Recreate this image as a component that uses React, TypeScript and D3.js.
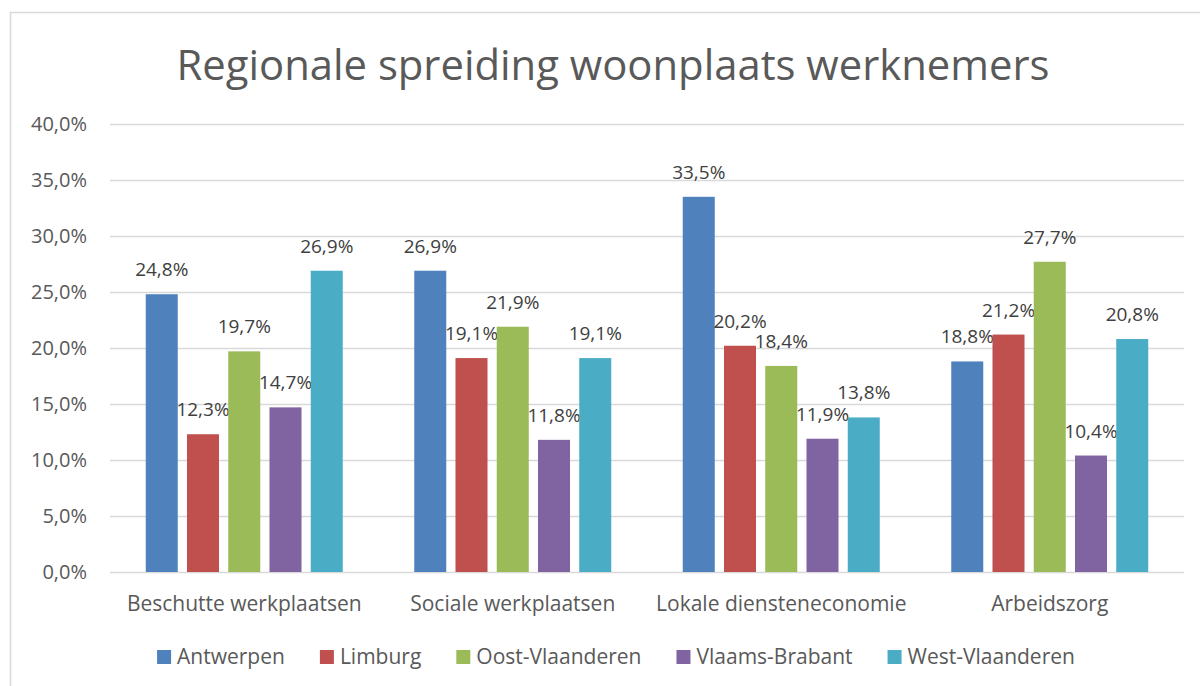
import React, { useEffect, useRef } from "react";
import * as d3 from "d3";

const categories = ["Beschutte werkplaatsen", "Sociale werkplaatsen", "Lokale diensteneconomie", "Arbeidszorg"];
const regions = ["Antwerpen", "Limburg", "Oost-Vlaanderen", "Vlaams-Brabant", "West-Vlaanderen"];
const antwerpen = [24.8, 26.9, 33.5, 18.8];
const limburg = [12.3, 19.1, 20.2, 21.2];
const oostVlaanderen = [19.7, 21.9, 18.4, 27.7];
const vlaamsBrabant = [14.7, 11.8, 11.9, 10.4];
const westVlaanderen = [26.9, 19.1, 13.8, 20.8];
const yTicks = [0, 5, 10, 15, 20, 25, 30, 35, 40];
const colors = ["#4F81BD", "#C0504D", "#9BBB59", "#8064A2", "#4BACC6"];

const seriesValues = [antwerpen, limburg, oostVlaanderen, vlaamsBrabant, westVlaanderen];
const FONT = "'Open Sans', sans-serif";
const fmt = (v: number) => v.toFixed(1).replace(".", ",") + "%";

export default function App() {
  const ref = useRef<SVGSVGElement>(null);

  useEffect(() => {
    const svg = d3.select(ref.current);
    svg.selectAll("*").remove();

    const margin = { left: 110, right: 1184, top: 124, bottom: 572 };

    // frame
    svg.append("rect").attr("x", 10.5).attr("y", 12.5).attr("width", 1200).attr("height", 700)
      .attr("fill", "white").attr("stroke", "#D9D9D9").attr("stroke-width", 1.5);

    svg.append("text").attr("x", 613).attr("y", 80).attr("text-anchor", "middle")
      .attr("font-family", FONT).attr("font-size", 41.8).attr("fill", "#595959")
      .text("Regionale spreiding woonplaats werknemers");

    const y = d3.scaleLinear().domain([0, 40]).range([margin.bottom, margin.top]);
    const x0 = d3.scaleBand().domain(categories).range([margin.left, margin.right]).padding(0);
    const x1 = d3.scaleBand().domain(regions)
      .range([x0.bandwidth() / 2 - 98.5, x0.bandwidth() / 2 + 98.5])
      .paddingInner(0.224).paddingOuter(0);

    // gridlines + tick labels
    const grid = svg.append("g");
    grid.selectAll("line").data(yTicks).join("line")
      .attr("x1", margin.left).attr("x2", margin.right)
      .attr("y1", d => Math.round(y(d)) + 0.5).attr("y2", d => Math.round(y(d)) + 0.5)
      .attr("stroke", "#D9D9D9").attr("stroke-width", 1.5);
    grid.selectAll("text").data(yTicks).join("text")
      .attr("x", 87).attr("y", d => y(d) + 7).attr("text-anchor", "end")
      .attr("font-family", FONT).attr("font-size", 20).attr("fill", "#595959")
      .text(d => fmt(d));

    // bars
    const groups = svg.append("g").selectAll("g").data(categories).join("g")
      .attr("transform", d => `translate(${x0(d)},0)`);

    regions.forEach((r, si) => {
      groups.append("rect")
        .attr("x", x1(r)!)
        .attr("y", (_, ci) => y(seriesValues[si][ci]))
        .attr("width", x1.bandwidth())
        .attr("height", (_, ci) => y(0) - y(seriesValues[si][ci]))
        .attr("fill", colors[si]);
      groups.append("text")
        .attr("x", x1(r)! + x1.bandwidth() / 2)
        .attr("y", (_, ci) => y(seriesValues[si][ci]) - 18)
        .attr("text-anchor", "middle")
        .attr("font-family", FONT).attr("font-size", 19).attr("fill", "#404040")
        .text((_, ci) => fmt(seriesValues[si][ci]));
    });

    // category labels
    svg.append("g").selectAll("text").data(categories).join("text")
      .attr("x", d => x0(d)! + x0.bandwidth() / 2).attr("y", 611)
      .attr("text-anchor", "middle")
      .attr("font-family", FONT).attr("font-size", 21).attr("fill", "#595959")
      .text(d => d);

    // legend
    const legend = svg.append("g");
    const items = legend.selectAll("g").data(regions).join("g");
    items.append("rect").attr("width", 14).attr("height", 14).attr("y", 650)
      .attr("fill", (_, i) => colors[i]);
    items.append("text").attr("x", 20).attr("y", 664)
      .attr("font-family", FONT).attr("font-size", 21).attr("fill", "#595959")
      .text(d => d);
    const widths: number[] = [];
    items.each(function () {
      widths.push((d3.select(this).select("text").node() as SVGTextElement).getComputedTextLength() + 20);
    });
    const gap = 35;
    const total = d3.sum(widths) + gap * (widths.length - 1);
    let cx = 616 - total / 2;
    items.attr("transform", (_, i) => {
      const t = `translate(${cx},0)`;
      cx += widths[i] + gap;
      return t;
    });
  }, []);

  return (
    <svg ref={ref} width={1200} height={686}
      style={{ position: "absolute", left: 0, top: 0, background: "white" }} />
  );
}
